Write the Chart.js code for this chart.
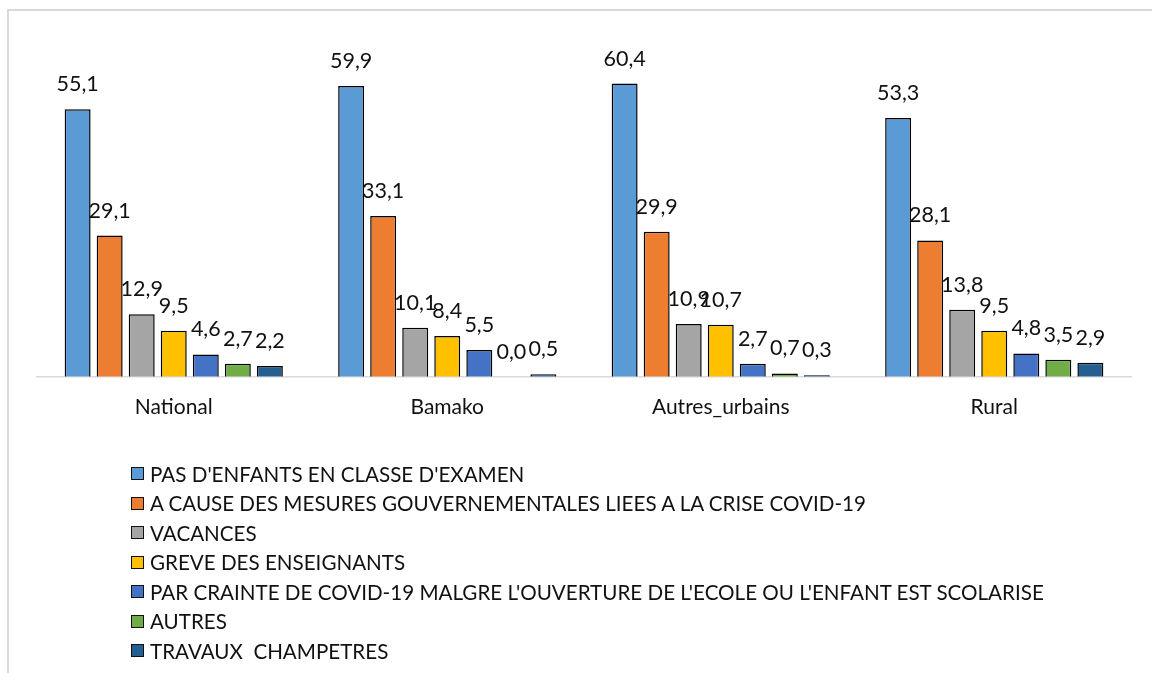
<!DOCTYPE html>
<html>
<head>
<meta charset="utf-8">
<script src="https://cdn.jsdelivr.net/npm/chart.js@4/dist/chart.umd.min.js"></script>
<style>
  body { margin: 0; background: #fff; }
  #wrap { position: relative; width: 1152px; height: 673px; overflow: hidden; }
  #frame { position: absolute; left: 7px; top: 9px; width: 1150px; height: 670px;
           border-top: 2px solid #d9d9d9; border-left: 2px solid #d9d9d9; }
  #chart { position: absolute; left: 0; top: 0; }
  #legend { position: absolute; left: 131px; top: 459px; font-family: Lato, sans-serif;
            font-size: 20.6px; color: #111; }
  .item { height: 29.5px; display: flex; align-items: center; white-space: pre; }
  .box { width: 11px; height: 11px; border: 1.5px solid #111; margin-right: 6px; flex: none; }
</style>
</head>
<body>
<div id="wrap">
  <div id="frame"></div>
  <canvas id="chart" width="1152" height="673"></canvas>
  <div id="legend"></div>
</div>
<script>
const regions = ['National', 'Bamako', 'Autres_urbains', 'Rural'];

const seriesNames = [
    "PAS D'ENFANTS EN CLASSE D'EXAMEN",
    "A CAUSE DES MESURES GOUVERNEMENTALES LIEES A LA CRISE COVID-19",
    "VACANCES",
    "GREVE DES ENSEIGNANTS",
    "PAR CRAINTE DE COVID-19 MALGRE L'OUVERTURE DE L'ECOLE OU L'ENFANT EST SCOLARISE",
    "AUTRES",
    "TRAVAUX  CHAMPETRES"
];

const pasEnfants = [55.1, 59.9, 60.4, 53.3];
const mesuresGouv = [29.1, 33.1, 29.9, 28.1];
const vacances = [12.9, 10.1, 10.9, 13.8];
const greve = [9.5, 8.4, 10.7, 9.5];
const crainteCovid = [4.6, 5.5, 2.7, 4.8];
const autres = [2.7, 0.0, 0.7, 3.5];
const travaux = [2.2, 0.5, 0.3, 2.9];

const seriesValues = [pasEnfants, mesuresGouv, vacances, greve, crainteCovid, autres, travaux];
const seriesColors = ['#5B9BD5', '#ED7D31', '#A5A5A5', '#FFC000', '#4472C4', '#70AD47', '#255E91'];

const FONT = 'Lato, sans-serif';

// labels "55,1" written over every bar
const valueLabels = {
    id: 'valueLabels',
    afterDatasetsDraw(chart) {
        const ctx = chart.ctx;
        ctx.save();
        ctx.font = '21.5px ' + FONT;
        ctx.fillStyle = '#111';
        ctx.textAlign = 'center';
        ctx.textBaseline = 'alphabetic';
        chart.data.datasets.forEach((ds, i) => {
            const meta = chart.getDatasetMeta(i);
            meta.data.forEach((bar, j) => {
                const txt = ds.data[j].toFixed(1).replace('.', ',');
                ctx.fillText(txt, bar.x, bar.y - 18);
            });
        });
        ctx.restore();
    }
};

function prepareChart()
{
    const datasets = seriesNames.map((name, i) => ({
        label: name,
        data: seriesValues[i],
        backgroundColor: seriesColors[i],
        borderColor: '#000',
        borderWidth: 1.5,
        categoryPercentage: 0.82,
        barPercentage: 0.81
    }));

    const chart = new Chart(document.getElementById('chart'), {
        type: 'bar',
        data: { labels: regions, datasets: datasets },
        options: {
            responsive: false,
            animation: false,
            layout: { padding: { left: 37, right: 21, top: 37, bottom: 235 } },
            plugins: {
                legend: { display: false },
                tooltip: { enabled: false }
            },
            scales: {
                x: {
                    grid: { display: false, drawTicks: false },
                    border: { color: '#d9d9d9', width: 1.5 },
                    ticks: { color: '#111', font: { family: FONT, size: 21 }, padding: 18 }
                },
                y: {
                    display: false,
                    min: 0,
                    max: 70
                }
            }
        },
        plugins: [valueLabels]
    });

    const legend = document.getElementById('legend');
    chart.data.datasets.forEach(ds => {
        const row = document.createElement('div');
        row.className = 'item';
        const box = document.createElement('span');
        box.className = 'box';
        box.style.background = ds.backgroundColor;
        row.appendChild(box);
        row.appendChild(document.createTextNode(ds.label));
        legend.appendChild(row);
    });
}

window.addEventListener('load', prepareChart);
</script>
</body>
</html>
